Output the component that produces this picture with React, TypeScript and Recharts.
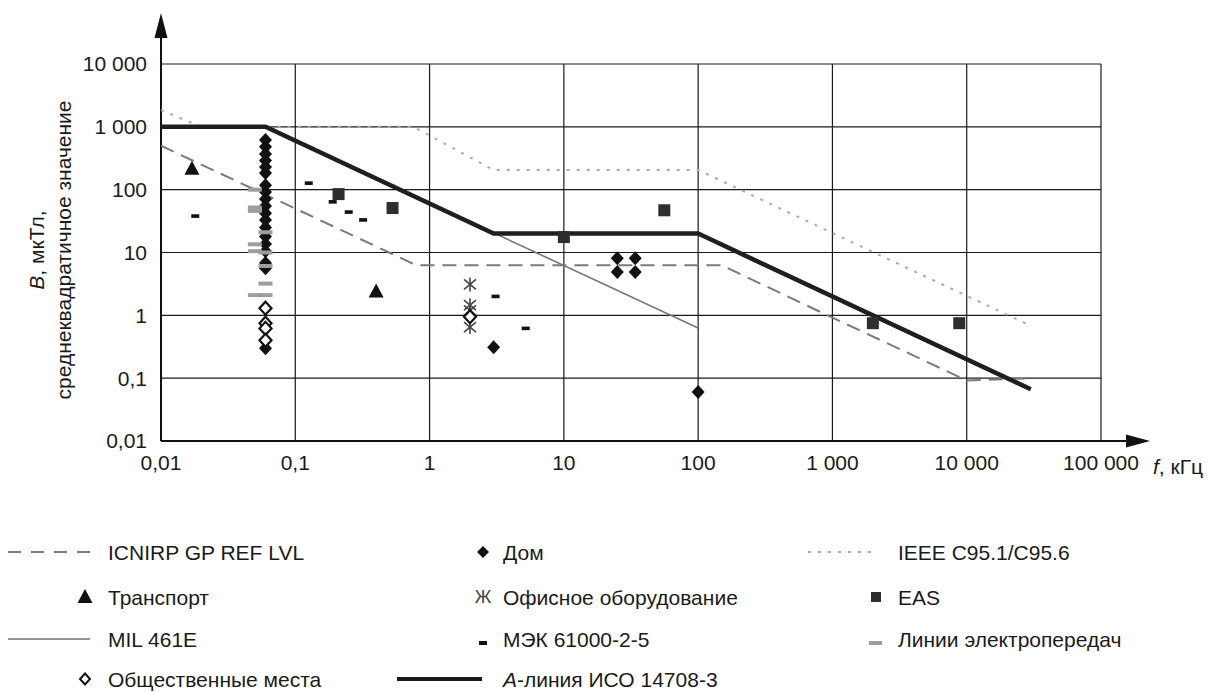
import React from 'react'
import { ScatterChart, Scatter, XAxis, YAxis, CartesianGrid } from 'recharts'

const xTicks = [0.01, 0.1, 1, 10, 100, 1000, 10000, 100000]
const yTicks = [0.01, 0.1, 1, 10, 100, 1000, 10000]

// limit curves, [f kHz, B uT]
const icnirpLine = [[0.01, 500], [0.8, 6.25], [150, 6.25], [1000, 0.92], [10000, 0.092], [30000, 0.1]]
const ieeeLine = [[0.01, 1850], [0.02, 1000], [0.76, 1000], [3, 205], [100, 205], [30000, 0.68]]
const milLine = [[0.03, 1000], [0.06, 1000], [100, 0.63]]
const aLine = [[0.01, 1000], [0.06, 1000], [3, 20], [100, 20], [30000, 0.0667]]

// measured sources
const homePts = [
  [0.06, 620], [0.06, 480], [0.06, 370], [0.06, 290], [0.06, 230], [0.06, 185],
  [0.06, 118], [0.06, 92], [0.06, 71], [0.06, 55], [0.06, 42], [0.06, 33],
  [0.06, 25], [0.06, 18], [0.06, 13.6], [0.06, 10.5], [0.06, 6.8], [0.06, 5.6],
  [0.06, 0.3], [3, 0.31], [25, 8.1], [25, 4.9], [34, 8.1], [34, 4.9], [100, 0.06],
]
const publicPts = [[0.06, 1.3], [0.06, 0.75], [0.06, 0.62], [0.06, 0.4], [2, 0.95]]
const transportPts = [[0.017, 215], [0.4, 2.4]]
const officePts = [[2, 3.1], [2, 1.45], [2, 1.2], [2, 0.65]]
const iecPts = [[0.018, 38], [0.126, 127], [0.19, 64], [0.25, 44], [0.32, 33], [3.1, 2.0], [5.2, 0.62]]
const easPts = [[0.21, 85], [0.53, 51], [10, 17.6], [56, 47], [2000, 0.75], [8800, 0.75]]
const powerPts = [
  [0.05, 100], [0.05, 52], [0.05, 46], [0.06, 21], [0.05, 13.5], [0.05, 10.5],
  [0.06, 10], [0.06, 6.1], [0.06, 3.2], [0.05, 2.1], [0.06, 2.1],
]

const pts = (a: number[][]) => a.map(([x, y]) => ({ x, y }))

const FONT = '"Liberation Sans", Arial, sans-serif'
const INK = '#1a1a1a'

const fmt = (v: number) =>
  v < 1 ? String(v).replace('.', ',') : String(v).replace(/\B(?=(\d{3})+(?!\d))/g, ' ')

const none = () => <g />
const diamond = (p: any) => (
  <path d={`M${p.cx},${p.cy - 7} L${p.cx + 6.5},${p.cy} L${p.cx},${p.cy + 7} L${p.cx - 6.5},${p.cy} Z`} fill="#111" />
)
const openDiamond = (p: any) => (
  <path d={`M${p.cx},${p.cy - 6.5} L${p.cx + 6},${p.cy} L${p.cx},${p.cy + 6.5} L${p.cx - 6},${p.cy} Z`} fill="#fff" stroke="#111" strokeWidth={2.2} />
)
const triangle = (p: any) => (
  <path d={`M${p.cx},${p.cy - 8} L${p.cx + 7.5},${p.cy + 6} L${p.cx - 7.5},${p.cy + 6} Z`} fill="#111" />
)
const square = (p: any) => <rect x={p.cx - 6} y={p.cy - 6} width={12} height={12} fill="#2e2e2e" />
const dash = (p: any) => <rect x={p.cx - 4} y={p.cy - 1.8} width={8} height={3.6} fill="#111" />
const grayBar = (p: any) => <rect x={p.cx - 7} y={p.cy - 2} width={14} height={4} fill="#9d9d9d" />
const asterisk = (p: any) => (
  <g stroke="#444" strokeWidth={1.6}>
    <line x1={p.cx} y1={p.cy - 7} x2={p.cx} y2={p.cy + 7} />
    <line x1={p.cx - 6} y1={p.cy - 5} x2={p.cx + 6} y2={p.cy + 5} />
    <line x1={p.cx + 6} y1={p.cy - 5} x2={p.cx - 6} y2={p.cy + 5} />
  </g>
)

const textStyle = { fontFamily: FONT, fontSize: 21, fill: INK }

function LegendOverlay() {
  const rows = [552, 597, 639, 679]
  const c1 = 108
  const c2 = 503
  const c3 = 898
  return (
    <g style={textStyle}>
      {/* column 1 */}
      <line x1={8} x2={90} y1={rows[0]} y2={rows[0]} stroke="#7a7a7a" strokeWidth={1.8} strokeDasharray="13 10" />
      <text x={c1} y={rows[0]} dominantBaseline="central">ICNIRP GP REF LVL</text>
      {triangle({ cx: 85, cy: rows[1] })}
      <text x={c1} y={rows[1]} dominantBaseline="central">Транспорт</text>
      <line x1={8} x2={90} y1={rows[2]} y2={rows[2]} stroke="#6e6e6e" strokeWidth={1.5} />
      <text x={c1} y={rows[2]} dominantBaseline="central">MIL 461E</text>
      <path d={`M85,${rows[3] - 5.5} L90,${rows[3]} L85,${rows[3] + 5.5} L80,${rows[3]} Z`} fill="#fff" stroke="#111" strokeWidth={2} />
      <text x={c1} y={rows[3]} dominantBaseline="central">Общественные места</text>
      {/* column 2 */}
      <path d={`M483,${rows[0] - 6} L489,${rows[0]} L483,${rows[0] + 6} L477,${rows[0]} Z`} fill="#111" />
      <text x={c2} y={rows[0]} dominantBaseline="central">Дом</text>
      <text x={483} y={rows[1]} dominantBaseline="central" textAnchor="middle" fill="#444" fontSize={18}>Ж</text>
      <text x={c2} y={rows[1]} dominantBaseline="central">Офисное оборудование</text>
      <rect x={479} y={rows[2] + 2} width={8} height={4} fill="#111" />
      <text x={c2} y={rows[2]} dominantBaseline="central">МЭК 61000-2-5</text>
      <line x1={397} x2={482} y1={rows[3]} y2={rows[3]} stroke="#1a1a1a" strokeWidth={4} />
      <text x={c2} y={rows[3]} dominantBaseline="central">
        <tspan fontStyle="italic">А</tspan>-линия ИСО 14708-3
      </text>
      {/* column 3 */}
      <line x1={808} x2={872} y1={rows[0]} y2={rows[0]} stroke="#ababab" strokeWidth={1.8} strokeDasharray="3 7" />
      <text x={c3} y={rows[0]} dominantBaseline="central">IEEE C95.1/C95.6</text>
      <rect x={871} y={rows[1] - 5} width={10} height={10} fill="#2e2e2e" />
      <text x={c3} y={rows[1]} dominantBaseline="central">EAS</text>
      <rect x={869} y={rows[2] + 2} width={13} height={4} fill="#9d9d9d" />
      <text x={c3} y={rows[2]} dominantBaseline="central">Линии электропередач</text>
    </g>
  )
}

export default function App() {
  const tick = { fontSize: 21, fill: INK, fontFamily: FONT }
  return (
    <div style={{ position: 'relative', width: 1209, height: 692, overflow: 'hidden', background: '#fff' }}>
      <style>{'body{margin:0}'}</style>
      <ScatterChart width={1209} height={692} margin={{ top: 64, right: 108, bottom: 211, left: 101 }}>
        <CartesianGrid stroke="#1a1a1a" strokeWidth={1.2} />
        <XAxis
          type="number"
          dataKey="x"
          scale="log"
          domain={[0.01, 100000]}
          allowDataOverflow
          ticks={xTicks}
          tickFormatter={fmt}
          height={40}
          tick={tick}
          tickLine={false}
          tickSize={0}
          tickMargin={14}
          axisLine={{ stroke: '#111', strokeWidth: 2 }}
        />
        <YAxis
          type="number"
          dataKey="y"
          scale="log"
          domain={[0.01, 10000]}
          allowDataOverflow
          ticks={yTicks}
          tickFormatter={fmt}
          width={60}
          tick={tick}
          tickLine={false}
          tickSize={0}
          tickMargin={14}
          axisLine={{ stroke: '#111', strokeWidth: 2 }}
        />
        <Scatter data={pts(icnirpLine)} shape={none} line={{ stroke: '#7a7a7a', strokeWidth: 2, strokeDasharray: '14 8' }} isAnimationActive={false} />
        <Scatter data={pts(ieeeLine)} shape={none} line={{ stroke: '#ababab', strokeWidth: 2, strokeDasharray: '3 7' }} isAnimationActive={false} />
        <Scatter data={pts(milLine)} shape={none} line={{ stroke: '#777', strokeWidth: 1.6 }} isAnimationActive={false} />
        <Scatter data={pts(aLine)} shape={none} line={{ stroke: '#1f1f1f', strokeWidth: 4.5 }} isAnimationActive={false} />
        <Scatter data={pts(iecPts)} shape={dash} isAnimationActive={false} />
        <Scatter data={pts(easPts)} shape={square} isAnimationActive={false} />
        <Scatter data={pts(transportPts)} shape={triangle} isAnimationActive={false} />
        <Scatter data={pts(officePts)} shape={asterisk} isAnimationActive={false} />
        <Scatter data={pts(homePts)} shape={diamond} isAnimationActive={false} />
        <Scatter data={pts(publicPts)} shape={openDiamond} isAnimationActive={false} />
        <Scatter data={pts(powerPts)} shape={grayBar} isAnimationActive={false} />
      </ScatterChart>
      <svg width={1209} height={692} style={{ position: 'absolute', left: 0, top: 0, pointerEvents: 'none' }}>
        {/* axis arrows */}
        <line x1={161} y1={36} x2={161} y2={64} stroke="#111" strokeWidth={2} />
        <path d="M161,13 L154.5,38 L167.5,38 Z" fill="#111" />
        <line x1={1101} y1={441} x2={1128} y2={441} stroke="#111" strokeWidth={2} />
        <path d="M1150,441 L1126,434.5 L1126,447.5 Z" fill="#111" />
        <g style={textStyle}>
          <text transform="translate(36,250) rotate(-90)" textAnchor="middle" dominantBaseline="central">
            <tspan fontStyle="italic">B</tspan>, мкТл,
          </text>
          <text transform="translate(63,250) rotate(-90)" textAnchor="middle" dominantBaseline="central">
            среднеквадратичное значение
          </text>
          <text x={1153} y={466} dominantBaseline="central">
            <tspan fontStyle="italic">f</tspan>, кГц
          </text>
        </g>
        <LegendOverlay />
      </svg>
    </div>
  )
}
